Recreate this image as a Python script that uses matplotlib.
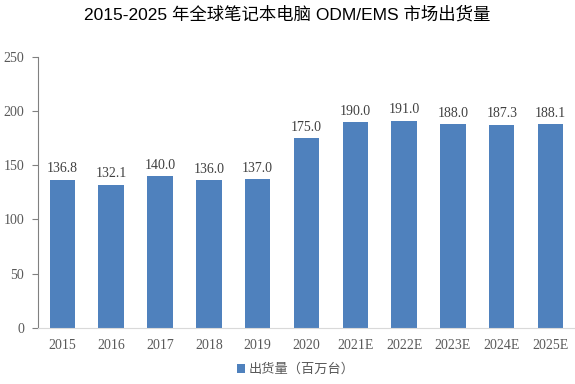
import matplotlib.pyplot as plt

years = ["2015", "2016", "2017", "2018", "2019", "2020",
         "2021E", "2022E", "2023E", "2024E", "2025E"]
shipments = [136.8, 132.1, 140.0, 136.0, 137.0, 175.0,
             190.0, 191.0, 188.0, 187.3, 188.1]
yticks = [0, 50, 100, 150, 200, 250]

cjk = ["Liberation Sans", "Noto Sans CJK SC"]
serif = "Liberation Serif"

fig = plt.figure(figsize=(5.75, 3.84), dpi=100)
ax = fig.add_axes([0.066, 0.146, 0.934, 0.706])

x = range(len(years))
bars = ax.bar(x, shipments, width=0.52, color="#4F81BD", label="出货量（百万台）")

for xi, v in zip(x, shipments):
    ax.text(xi, v + 4, f"{v:.1f}", ha="center", va="bottom",
            fontsize=10, family=serif, color="#404040")

ax.set_xlim(-0.5, len(years) - 0.5)
ax.set_ylim(0, 250)
ax.set_yticks(yticks)
ax.set_xticks(list(x))
ax.set_xticklabels(years, family=serif, fontsize=10, color="#595959")
for lbl in ax.get_yticklabels():
    lbl.set_family(serif)
    lbl.set_fontsize(10)
    lbl.set_color("#595959")

for s in ["top", "right"]:
    ax.spines[s].set_visible(False)
ax.spines["left"].set_color("#808080")
ax.spines["bottom"].set_color("#D9D9D9")
ax.tick_params(axis="y", length=4, color="#808080", pad=6)
ax.tick_params(axis="x", length=0, pad=8)

fig.suptitle("2015-2025 年全球笔记本电脑 ODM/EMS 市场出货量",
             family=cjk, fontsize=12.5, x=0.5, y=0.985)

fig.legend(handles=[bars], labels=["出货量（百万台）"], loc="lower center",
           bbox_to_anchor=(0.515, -0.01), frameon=False, handlelength=0.6,
           handleheight=0.6, handletextpad=0.3, labelcolor="#595959",
           prop={"family": cjk, "size": 9.5})

fig.savefig("out.png", dpi=100)
